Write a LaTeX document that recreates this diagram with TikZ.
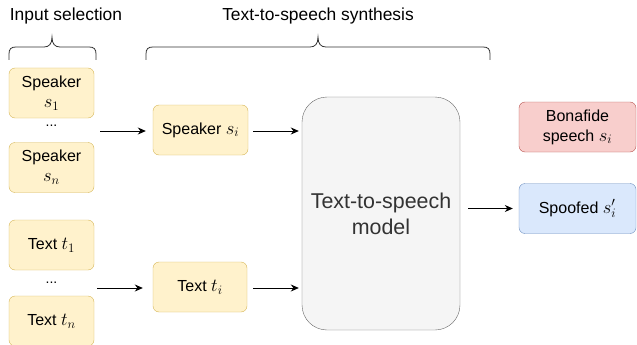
\RequirePackage{fix-cm}
\documentclass[tikz,border=0pt]{standalone}
\usepackage{amsmath}
\usepackage{fontspec}
\setmainfont{Liberation Sans}
\usetikzlibrary{positioning,arrows.meta}

\definecolor{inputfill}{HTML}{FFF2CC}
\definecolor{inputdraw}{HTML}{D6B656}
\definecolor{modelfill}{HTML}{F5F5F5}
\definecolor{modeldraw}{HTML}{666666}
\definecolor{modeltext}{HTML}{333333}
\definecolor{realfill}{HTML}{F8CECC}
\definecolor{realdraw}{HTML}{B85450}
\definecolor{fakefill}{HTML}{DAE8FC}
\definecolor{fakedraw}{HTML}{6C8EBF}

% math a bit larger, as in the drawing
\newcommand{\mth}[1]{{\fontsize{18.5}{20}\selectfont$#1$}}

\begin{document}
\begin{tikzpicture}
[x=1pt,y=-1pt,
   inbox/.style={draw=inputdraw, fill=inputfill, rounded corners=6pt,
      minimum width=85pt, minimum height=50pt, align=center, inner sep=2pt,
      font=\fontsize{16}{20}\selectfont},
   outbox/.style={rounded corners=6pt, minimum width=117pt, minimum height=50pt,
      align=center, inner sep=2pt, font=\fontsize{16}{20}\selectfont},
   head/.style={font=\fontsize{17.4}{21}\selectfont},
   arr/.style={-{Stealth[length=8pt,width=7pt]}, line width=0.8pt},
   brace/.style={line width=0.8pt, draw=black!80}]
\useasboundingbox (0,0) rectangle (637,345);

% headings and braces
\node[head] (insel) at (66,16) {Input selection};
\node[head] (ttssyn) at (318,16) {Text-to-speech synthesis};
\draw[brace] (9,60) -- (9,54) .. controls (9,49) and (11,47) .. (16,47)
   -- (44,47) .. controls (49,47) and (52,44) .. (52,37)
   .. controls (52,44) and (55,47) .. (60,47) -- (89,47)
   .. controls (94,47) and (96,49) .. (96,54) -- (96,60);
\draw[brace] (146,60) -- (146,54) .. controls (146,49) and (148,47) .. (153,47)
   -- (310,47) .. controls (315,47) and (318,44) .. (318,37)
   .. controls (318,44) and (321,47) .. (326,47) -- (483,47)
   .. controls (488,47) and (490,49) .. (490,54) -- (490,60);

% input selection
\node[inbox] (spk1) at (51.5,93) {Speaker\\\mth{s_1}};
\node[font=\fontsize{14}{16}\selectfont] (dots1) at (51.5,126) {...};
\node[inbox] (spkn) at (51.5,167.5) {Speaker\\\mth{s_n}};
\node[inbox] (txt1) at (51.5,245) {Text \mth{t_1}};
\node[font=\fontsize{14}{16}\selectfont] (dots2) at (51.5,283) {...};
\node[inbox] (txtn) at (51.5,321) {Text \mth{t_n}};

% chosen inputs
\node[inbox, minimum width=95pt] (spki) at (200.5,130) {Speaker \mth{s_i}};
\node[inbox, minimum width=94pt] (txti) at (200,287) {Text \mth{t_i}};
\coordinate (spkin) at (100,131);
\coordinate (txtin) at (97,288);
\draw[arr, shorten >=7pt] (spkin) -- (spki.west |- spkin);
\draw[arr, shorten >=10pt] (txtin) -- (txti.west |- txtin);

% model
\node[draw=modeldraw, fill=modelfill, rounded corners=25pt, minimum width=158pt,
   minimum height=233pt, align=center, text=modeltext,
   font=\fontsize{21.4}{26}\selectfont] (tts) at (381,213.5) {Text-to-speech\\model};
\draw[arr, shorten <=5pt, shorten >=3pt] (spki.east |- spkin) -- (tts.west |- spkin);
\draw[arr, shorten <=6pt, shorten >=3pt] (txti.east |- txtin) -- (tts.west |- txtin);

% outputs
\node[outbox, draw=realdraw, fill=realfill] (bona) at (577.5,127) {Bonafide\\speech \mth{s_i}};
\node[outbox, draw=fakedraw, fill=fakefill] (spoof) at (577.5,208.5) {Spoofed \mth{s'_i}};
\draw[arr, shorten <=8pt, shorten >=6pt] (tts.east |- spoof) -- (spoof.west);

\end{tikzpicture}
\end{document}
